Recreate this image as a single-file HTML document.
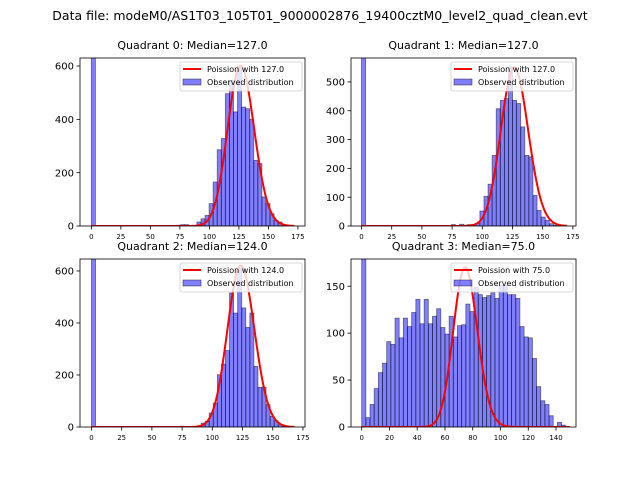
<!DOCTYPE html>
<html><head><meta charset="utf-8"><style>
body{margin:0;background:#fff;}
svg{display:block;font-family:"DejaVu Sans","Liberation Sans",sans-serif;}
</style></head><body>
<svg id="fig" width="640" height="480" viewBox="0 0 640 480" xmlns="http://www.w3.org/2000/svg">
<rect width="640" height="480" fill="#fff"/>
<text x="320" y="20" font-size="12.5" text-anchor="middle">Data file: modeM0/AS1T03_105T01_9000002876_19400cztM0_level2_quad_clean.evt</text>
</svg>
<script>
// ---- data ----
const q0Counts=[3000,0,0,0,0,0,0,0,0,0,0,0,0,0,0,0,0,0,0,0,0,3,5,5,0,0,15,27,40,84,165,286,328,496,546,428,600,446,440,400,246,234,109,84,46,21,15,5,0,0];
const q1Counts=[3000,0,0,0,0,0,0,0,0,0,0,0,0,0,0,0,0,0,0,0,0,0,5,0,6,3,5,5,10,52,103,145,245,407,436,442,552,436,425,344,245,240,106,54,31,20,8,3,0,0];
const q2Counts=[3000,0,0,0,0,0,0,0,0,0,0,0,0,0,0,0,0,0,0,0,0,0,3,0,0,0,5,15,22,54,92,201,242,294,515,438,612,458,383,438,233,153,153,86,41,24,9,4,0,0];
const q3Counts=[3000,10,24,41,58,68,91,88,116,95,116,107,122,136,110,136,110,118,126,106,99,118,96,108,109,131,123,149,141,138,140,143,137,151,151,141,141,137,107,96,95,73,43,28,24,12,0,5,2,0];
const binWidths=[3.44,3.38,3.36,3.0];
const medians=[127.0,127.0,124.0,75.0];
const curvePeaks=[600,550,620,170];
const curveMax=[172,170,168,150];
const titles=["Quadrant 0: Median=127.0","Quadrant 1: Median=127.0","Quadrant 2: Median=124.0","Quadrant 3: Median=75.0"];
const yTicks=[[0,200,400,600],[0,100,200,300,400,500],[0,200,400,600],[0,50,100,150]];
const xTicks=[[0,25,50,75,100,125,150,175],[0,25,50,75,100,125,150,175],[0,25,50,75,100,125,150,175],[0,20,40,60,80,100,120,140]];
// ---- layout ----
const boxes=[{l:80,t:58,r:305,b:226},{l:351,t:58,r:576,b:226},{l:80,t:259,r:305,b:427},{l:351,t:259,r:576,b:427}];
const xlims=[[-9.6,181],[-8.7,177.6],[-9.5,176.7],[-7.7,154.4]];
const ylims=[630,583,646,179];
const allCounts=[q0Counts,q1Counts,q2Counts,q3Counts];
const NS="http://www.w3.org/2000/svg";
const fig=document.getElementById('fig');
function mk(tag,attrs,parent){const e=document.createElementNS(NS,tag);for(const k in attrs)e.setAttribute(k,attrs[k]);(parent||fig).appendChild(e);return e;}
function lgam(n){let s=0;for(let i=2;i<=n;i++)s+=Math.log(i);return s;}
for(let p=0;p<4;p++){
  const b=boxes[p],xl=xlims[p],ym=ylims[p];
  const X=v=>b.l+(v-xl[0])/(xl[1]-xl[0])*(b.r-b.l);
  const Y=v=>b.b-v/ym*(b.b-b.t);
  const g=mk('g',{});
  
  
  mk('clipPath',{id:'c'+p},g);
  mk('rect',{x:b.l,y:b.t,width:b.r-b.l,height:b.b-b.t},g.lastChild);
  const bars=mk('g',{'clip-path':'url(#c'+p+')'},g);
  
  
  const cnt=allCounts[p],w=binWidths[p];
  cnt.forEach((c,i)=>{
    if(c<=0)return;
    const x0=X(i*w),x1=X((i+1)*w),y=Y(c);
    const r=mk('rect',{x:x0,y:y,width:x1-x0,height:b.b-y,fill:'rgba(0,0,255,0.5)',stroke:'rgba(0,0,0,0.5)','stroke-width':0.8},bars);
    
    
  });
  const mu=medians[p],pk=curvePeaks[p];
  const peakP=Math.exp(Math.floor(mu)*Math.log(mu)-mu-lgam(Math.floor(mu)));
  let d='';
  for(let k=0;k<=curveMax[p];k++){
    const pr=Math.exp(k*Math.log(mu)-mu-lgam(k));
    d+=(k?'L':'M')+X(k).toFixed(2)+','+Y(pr/peakP*pk).toFixed(2);
  }
  const pl=mk('path',{d:d,fill:'none',stroke:'#ff0000','stroke-width':2,'clip-path':'url(#c'+p+')'},g);
  
  
  mk('rect',{x:b.l,y:b.t,width:b.r-b.l,height:b.b-b.t,fill:'none',stroke:'#000','stroke-width':0.8},g);
  yTicks[p].forEach(v=>{
    const y=Y(v);
    mk('line',{x1:b.l-3.5,x2:b.l,y1:y,y2:y,stroke:'#000','stroke-width':0.8},g);
    const t=mk('text',{x:b.l-6,y:y+3.6,'font-size':10,'text-anchor':'end'},g);
    t.textContent=v;
    
    
  });
  xTicks[p].forEach(v=>{
    const x=X(v);
    mk('line',{x1:x,x2:x,y1:b.b,y2:b.b+3.5,stroke:'#000','stroke-width':0.8},g);
    const t=mk('text',{x:x,y:b.b+13,'font-size':7,'text-anchor':'middle'},g);
    t.textContent=v;
    
    
  });
  const tt=mk('text',{x:(b.l+b.r)/2,y:b.t-9,'font-size':11,'text-anchor':'middle'},g);
  tt.textContent=titles[p];
  
  
  const lg=mk('g',{},g);
  
  
  const lx=b.r-125,ly=b.t+4;
  mk('rect',{x:lx,y:ly,width:122,height:29,rx:2,fill:'rgba(255,255,255,0.8)',stroke:'#ccc','stroke-width':0.8},lg);
  mk('line',{x1:lx+3,x2:lx+21,y1:ly+7,y2:ly+7,stroke:'#ff0000','stroke-width':2},lg);
  const t1=mk('text',{x:lx+27,y:ly+10,'font-size':8},lg);
  t1.textContent='Poission with '+mu.toFixed(1);
  
  
  mk('rect',{x:lx+3,y:ly+17,width:18,height:6,fill:'rgba(0,0,255,0.5)',stroke:'rgba(0,0,0,0.5)','stroke-width':0.8},lg);
  const t2=mk('text',{x:lx+27,y:ly+23,'font-size':8},lg);
  t2.textContent='Observed distribution';
  
  
}
</script>
</body></html>
